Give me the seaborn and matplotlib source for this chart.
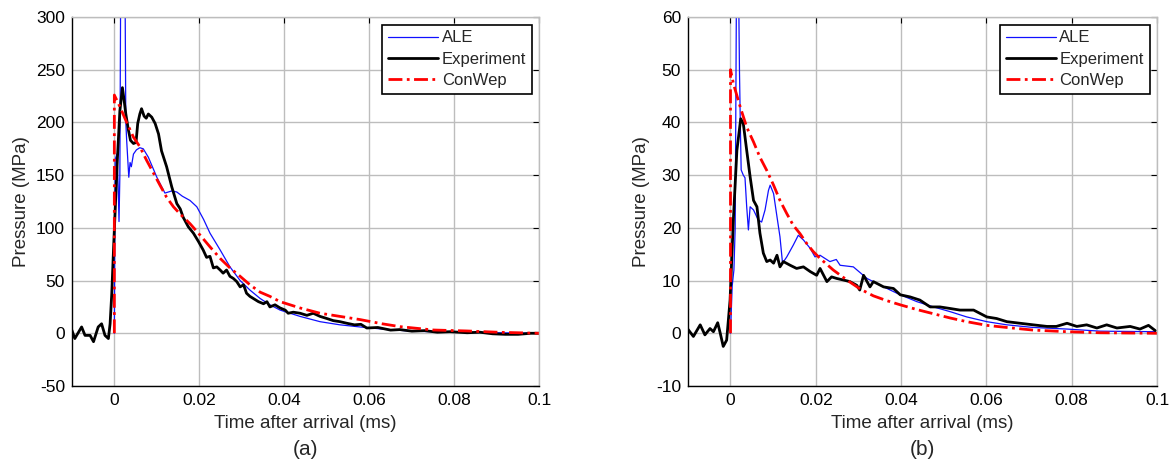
import seaborn as sns
import pandas as pd
import matplotlib
matplotlib.use('Agg')
import matplotlib.pyplot as plt

# ---- panel (a) ----
t_exp_a = [-0.0100, -0.0093, -0.0077, -0.0069, -0.0057, -0.0049, -0.0038, -0.0030, -0.0022, -0.0014,
           -0.0010, -0.0006, -0.0002, 0.0002, 0.0007, 0.0013, 0.0019, 0.0023, 0.0027, 0.0033,
           0.0038, 0.0045, 0.0051, 0.0055, 0.0060, 0.0064, 0.0070, 0.0075, 0.0080, 0.0088,
           0.0096, 0.0104, 0.0111, 0.0123, 0.0135, 0.0147, 0.0155, 0.0162, 0.0174, 0.0186,
           0.0198, 0.0209, 0.0217, 0.0225, 0.0233, 0.0241, 0.0249, 0.0256, 0.0264, 0.0272,
           0.0280, 0.0288, 0.0296, 0.0304, 0.0311, 0.0319, 0.0327, 0.0339, 0.0351, 0.0359,
           0.0366, 0.0378, 0.0390, 0.0402, 0.0409, 0.0421, 0.0437, 0.0453, 0.0468, 0.0484,
           0.0500, 0.0515, 0.0531, 0.0547, 0.0565, 0.0580, 0.0594, 0.0620, 0.0650, 0.0672,
           0.0700, 0.0730, 0.0760, 0.0790, 0.0830, 0.0860, 0.0890, 0.0920, 0.0950, 0.0980, 0.1000]
p_exp_a = [3, -5, 6, -2, -2, -8, 6, 9, -2, -5,
           9, 38, 79, 117, 164, 211, 233, 221, 208, 193,
           183, 180, 181, 199, 208, 213, 206, 204, 208, 205,
           199, 189, 173, 158, 139, 123, 118, 110, 101, 95,
           87, 79, 72, 73, 62, 63, 60, 57, 60, 54,
           52, 49, 44, 46, 38, 35, 33, 30, 28, 30,
           25, 27, 24, 22, 19, 20, 19, 17, 19, 16,
           14, 12, 11, 9.5, 8, 8.5, 5, 5.5, 3, 3.5,
           2, 2.5, 1, 1.5, 0.5, 1, -0.5, -1, -1, 0, 0]

t_ale_a = [0.0000, 0.0002, 0.0006, 0.0009, 0.0011, 0.0013, 0.0015, 0.0025, 0.0027, 0.0029,
           0.0034, 0.0037, 0.0040, 0.0045, 0.0052, 0.0060, 0.0068, 0.0080, 0.0100, 0.0119,
           0.0135, 0.0147, 0.0160, 0.0178, 0.0194, 0.0210, 0.0225, 0.0249, 0.0272, 0.0296,
           0.0319, 0.0343, 0.0366, 0.0390, 0.0437, 0.0484, 0.0531, 0.0578, 0.0630, 0.0700,
           0.0800, 0.0900, 0.1000]
p_ale_a = [0, 165, 170, 140, 106, 150, 340, 340, 200, 183,
           148, 162, 158, 170, 174, 176, 175, 167, 148, 133,
           135, 134, 130, 126, 120, 108, 95, 79, 63, 50,
           41, 33, 27, 22, 16, 11, 8, 6, 4, 2,
           1, 0.5, 0]

t_cw_a = [0.0000, 0.0000, 0.0013, 0.0029, 0.0045, 0.0060, 0.0076, 0.0092, 0.0108, 0.0123,
          0.0139, 0.0155, 0.0178, 0.0202, 0.0225, 0.0249, 0.0272, 0.0296, 0.0319, 0.0343,
          0.0366, 0.0390, 0.0437, 0.0484, 0.0531, 0.0578, 0.0630, 0.0672, 0.0751, 0.0829,
          0.0908, 0.1000]
p_cw_a = [0, 226, 215, 200, 186, 177, 164, 152, 140, 129,
          120, 113, 104, 93, 82, 71, 62, 54, 46, 39,
          35, 30, 24, 19, 16, 13, 9, 6.3, 3.1, 2.2,
          0.9, 0]

# ---- panel (b) ----
t_exp_b = [-0.0102, -0.0087, -0.0071, -0.0060, -0.0048, -0.0040, -0.0030, -0.0024, -0.0017, -0.0009,
           -0.0001, 0.0007, 0.0015, 0.0024, 0.0030, 0.0038, 0.0046, 0.0054, 0.0062, 0.0069,
           0.0077, 0.0085, 0.0093, 0.0101, 0.0109, 0.0116, 0.0124, 0.0140, 0.0155, 0.0171,
           0.0187, 0.0202, 0.0210, 0.0226, 0.0237, 0.0249, 0.0265, 0.0280, 0.0296, 0.0303,
           0.0312, 0.0327, 0.0335, 0.0359, 0.0382, 0.0398, 0.0421, 0.0444, 0.0468, 0.0491,
           0.0515, 0.0538, 0.0570, 0.0601, 0.0624, 0.0648, 0.0679, 0.0710, 0.0742, 0.0764,
           0.0789, 0.0812, 0.0835, 0.0859, 0.0882, 0.0906, 0.0937, 0.0960, 0.0980, 0.0996]
p_exp_b = [1.0, -0.6, 1.6, -0.3, 0.9, 0.3, 2.0, 0, -2.5, -1.3,
           6.3, 22, 34.7, 40.7, 39.8, 34.7, 29.7, 25.2, 24, 19,
           15.2, 13.6, 13.9, 13.3, 14.8, 12.6, 13.6, 12.9, 12.3, 12.6,
           11.7, 11.0, 12.3, 9.8, 10.7, 10.4, 10.1, 9.8, 9.1, 8.2,
           11.0, 8.8, 9.8, 8.8, 8.5, 7.3, 6.9, 6.3, 5.0, 5.0,
           4.7, 4.4, 4.4, 3.1, 2.8, 2.2, 1.9, 1.6, 1.3, 1.3,
           1.9, 1.3, 1.6, 1.0, 1.6, 1.0, 1.3, 0.8, 1.5, 0.5]

t_ale_b = [0.0000, 0.0004, 0.0008, 0.0011, 0.0014, 0.0019, 0.0021, 0.0023, 0.0025, 0.0030,
           0.0034, 0.0038, 0.0042, 0.0046, 0.0054, 0.0065, 0.0073, 0.0081, 0.0089, 0.0093,
           0.0101, 0.0109, 0.0116, 0.0122, 0.0132, 0.0147, 0.0159, 0.0171, 0.0187, 0.0198,
           0.0210, 0.0233, 0.0248, 0.0257, 0.0288, 0.0320, 0.0359, 0.0398, 0.0437, 0.0476,
           0.0515, 0.0554, 0.0601, 0.0648, 0.0710, 0.0789, 0.0867, 0.0996]
p_ale_b = [0, 9, 12, 20, 66, 66, 50, 40, 31, 30,
           29.5, 24, 19.6, 24, 23.4, 21.5, 21.1, 23.4, 27.1, 28.1,
           26.5, 22.1, 18.3, 13.3, 14.5, 16.7, 18.6, 17.7, 16.1, 14.5,
           14.8, 13.6, 14.0, 12.9, 12.6, 10.4, 8.8, 7.3, 6.0, 5.0,
           4.1, 3.1, 2.2, 1.6, 1.1, 0.8, 0.4, 0.3]

t_cw_b = [0.0000, 0.0000, 0.0007, 0.0023, 0.0038, 0.0054, 0.0069, 0.0085, 0.0101, 0.0116,
          0.0132, 0.0147, 0.0163, 0.0179, 0.0194, 0.0210, 0.0241, 0.0273, 0.0304, 0.0335,
          0.0366, 0.0398, 0.0437, 0.0476, 0.0515, 0.0554, 0.0601, 0.0648, 0.0710, 0.0789,
          0.0867, 0.1000]
p_cw_b = [0, 50, 47.3, 42.9, 39.1, 36.3, 33.4, 30.9, 28.1, 25.2,
          22.7, 20.5, 18.9, 17.0, 15.5, 14.2, 12.0, 10.1, 8.4, 7.1,
          6.2, 5.4, 4.5, 3.7, 2.9, 2.2, 1.5, 1.1, 0.6, 0.3,
          0.1, 0]

x_ticks = [0, 0.02, 0.04, 0.06, 0.08, 0.1]
x_ticklabels = ['0', '0.02', '0.04', '0.06', '0.08', '0.1']
y_ticks_a = [-50, 0, 50, 100, 150, 200, 250, 300]
y_ticks_b = [-10, 0, 10, 20, 30, 40, 50, 60]
panel_labels = ['(a)', '(b)']

sns.set_style('white')
plt.rcParams['font.family'] = ['Liberation Sans', 'DejaVu Sans']
plt.rcParams['axes.unicode_minus'] = False


def draw_panel(ax, series, yticks, label):
    for t, p, name, color, lw, ls in series:
        df = pd.DataFrame({'time': t, 'pressure': p})
        sns.lineplot(data=df, x='time', y='pressure', ax=ax, color=color, linewidth=lw,
                     linestyle=ls, sort=False, estimator=None, label=name)
    ax.set_xlim(-0.01, 0.1)
    ax.set_ylim(yticks[0], yticks[-1])
    ax.set_xticks(x_ticks)
    ax.set_xticklabels(x_ticklabels)
    ax.set_yticks(yticks)
    ax.grid(True, color='#bdbdbd', linewidth=1)
    ax.set_axisbelow(True)
    ax.tick_params(direction='in', length=4, width=0.8, labelsize=12.5, top=True, right=True,
                   colors='black', pad=5)
    for s in ['left', 'bottom']:
        ax.spines[s].set_color('black')
        ax.spines[s].set_linewidth(1)
    for s in ['top', 'right']:
        ax.spines[s].set_color('#bdbdbd')
        ax.spines[s].set_linewidth(1)
    ax.set_xlabel('Time after arrival (ms)', fontsize=13.5, labelpad=5)
    ax.set_ylabel('Pressure (MPa)', fontsize=13.5, labelpad=4)
    leg = ax.legend(loc='upper right', fontsize=12, frameon=True, fancybox=False,
                    edgecolor='black', framealpha=1, handlelength=3.0, handletextpad=0.2,
                    borderpad=0.35, labelspacing=0.38, borderaxespad=0.45)
    leg.get_frame().set_linewidth(1.2)
    bb = ax.get_position()
    fig.text(bb.x0 + bb.width / 2, 0.035, label, ha='center', va='center', fontsize=15)


fig = plt.figure(figsize=(11.7, 4.66), dpi=100)
ax_a = fig.add_axes([0.0614, 0.1717, 0.3996, 0.7918])
ax_b = fig.add_axes([0.5879, 0.1717, 0.4010, 0.7918])

dashdot = (0, (5, 1.6, 1, 1.6))
draw_panel(ax_a, [(t_ale_a, p_ale_a, 'ALE', '#1010ff', 0.9, '-'),
                  (t_exp_a, p_exp_a, 'Experiment', 'black', 2.0, '-'),
                  (t_cw_a, p_cw_a, 'ConWep', '#ff0000', 2.0, dashdot)],
           y_ticks_a, panel_labels[0])
draw_panel(ax_b, [(t_ale_b, p_ale_b, 'ALE', '#1010ff', 0.9, '-'),
                  (t_exp_b, p_exp_b, 'Experiment', 'black', 2.0, '-'),
                  (t_cw_b, p_cw_b, 'ConWep', '#ff0000', 2.0, dashdot)],
           y_ticks_b, panel_labels[1])

fig.savefig('out.png', dpi=100)
